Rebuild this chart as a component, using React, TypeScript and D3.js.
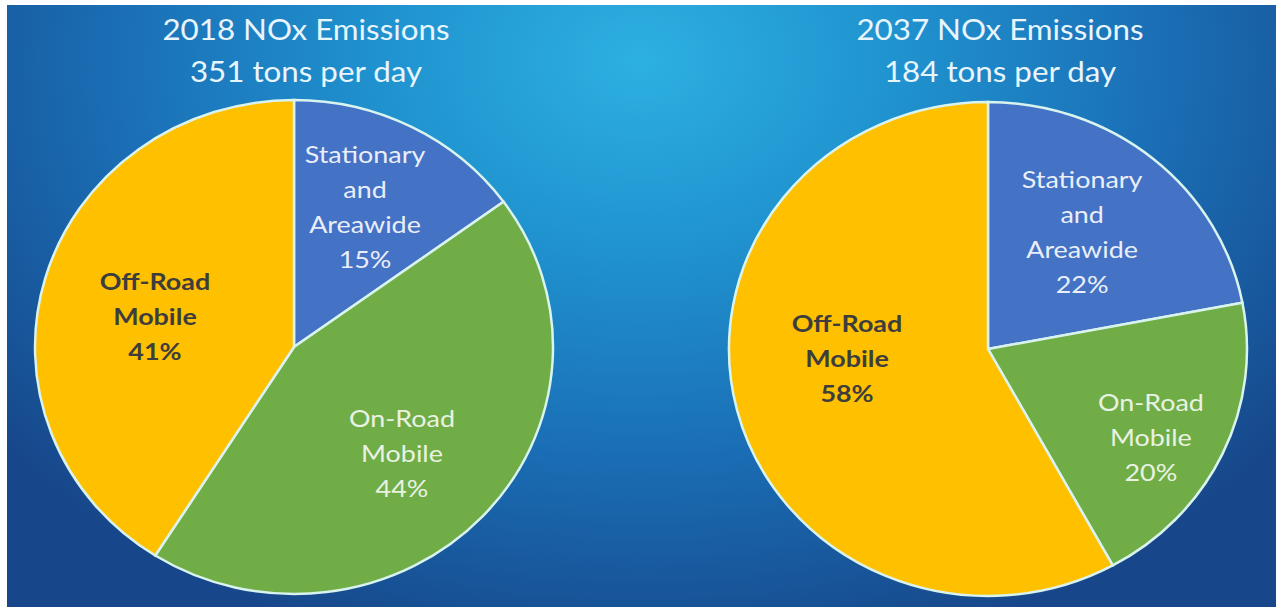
import React from "react";
import * as d3 from "d3";

const categories = ["Stationary and Areawide", "On-Road Mobile", "Off-Road Mobile"];
const labelLines = [["Stationary", "and", "Areawide"], ["On-Road", "Mobile"], ["Off-Road", "Mobile"]];
const values2018 = [15, 44, 41];
const values2037 = [22, 20, 58];
const titles2018 = ["2018 NOx Emissions", "351 tons per day"];
const titles2037 = ["2037 NOx Emissions", "184 tons per day"];

const sliceColors = ["#4472C4", "#70AD47", "#FFC000"];
const labelColors = ["#e9eef9", "#e9f2e2", "#3d3d3d"];
const labelWeights = [400, 400, 700];

const W = 1276;
const H = 607;
const RX = 259;
const RY = 247;
const FONT = "Lato, 'Open Sans', sans-serif";
const TITLE_SX = 1.08;
const LABEL_SX = 1.17;

// label placement factors (x, y) relative to ellipse radii
const place2018 = [[0.604, 0.634], [0.572, 0.632], [0.559, 0.435]];
const place2037 = [[0.57, 0.612], [0.695, 0.846], [0.562, 0.163]];

function Pie({ cx, cy, values, titles, place }: any) {
  const pie = d3.pie<number>().sort(null).startAngle(0).endAngle(2 * Math.PI);
  const arcs = pie(values);
  const arc = d3.arc<any>().innerRadius(0).outerRadius(RX);
  const k = RY / RX;
  const lh = 35;
  const tx = cx + 12;
  return (
    <g>
      {titles.map((t: string, i: number) => (
        <text key={i} x={tx} y={40 + i * 42} textAnchor="middle" fill="#e8f5fc"
          fontFamily={FONT} fontSize={29}
          transform={`translate(${tx},0) scale(${TITLE_SX},1) translate(${-tx},0)`}>{t}</text>
      ))}
      <g transform={`translate(${cx},${cy}) scale(1,${k})`}>
        {arcs.map((a, i) => (
          <path key={i} d={arc(a) as string} fill={sliceColors[i]} stroke="#d9f3ee"
            strokeWidth={2.5} vectorEffect="non-scaling-stroke" />
        ))}
      </g>
      {arcs.map((a, i) => {
        const mid = (a.startAngle + a.endAngle) / 2;
        const x = cx + RX * Math.sin(mid) * place[i][0];
        const y = cy - RY * Math.cos(mid) * place[i][1];
        const lines = [...labelLines[i], `${values[i]}%`];
        const y0 = y - ((lines.length - 1) * lh) / 2;
        return (
          <text key={i} textAnchor="middle" fill={labelColors[i]} fontFamily={FONT}
            fontWeight={labelWeights[i]} fontSize={23}
            transform={`translate(${x},0) scale(${LABEL_SX},1) translate(${-x},0)`}>
            {lines.map((l, j) => (
              <tspan key={j} x={x} y={y0 + j * lh} dy="0.35em">{l}</tspan>
            ))}
          </text>
        );
      })}
    </g>
  );
}

export default function App() {
  return (
    <svg width={W} height={H} style={{ position: "absolute", left: 0, top: 0 }}>
      <defs>
        <radialGradient id="bg" gradientUnits="userSpaceOnUse" cx={640} cy={60} r={820}
          gradientTransform="translate(640,60) scale(1,0.75) translate(-640,-60)">
          <stop offset="0" stopColor="#2db0e2" />
          <stop offset="0.3" stopColor="#2094d0" />
          <stop offset="0.65" stopColor="#1a6db4" />
          <stop offset="1" stopColor="#17478a" />
        </radialGradient>
      </defs>
      <rect x={0} y={0} width={W} height={H} fill="#ffffff" />
      <rect x={7} y={5} width={W - 7} height={H - 5} fill="url(#bg)" />
      <Pie cx={294} cy={347} values={values2018} titles={titles2018} place={place2018} />
      <Pie cx={988} cy={349} values={values2037} titles={titles2037} place={place2037} />
    </svg>
  );
}
